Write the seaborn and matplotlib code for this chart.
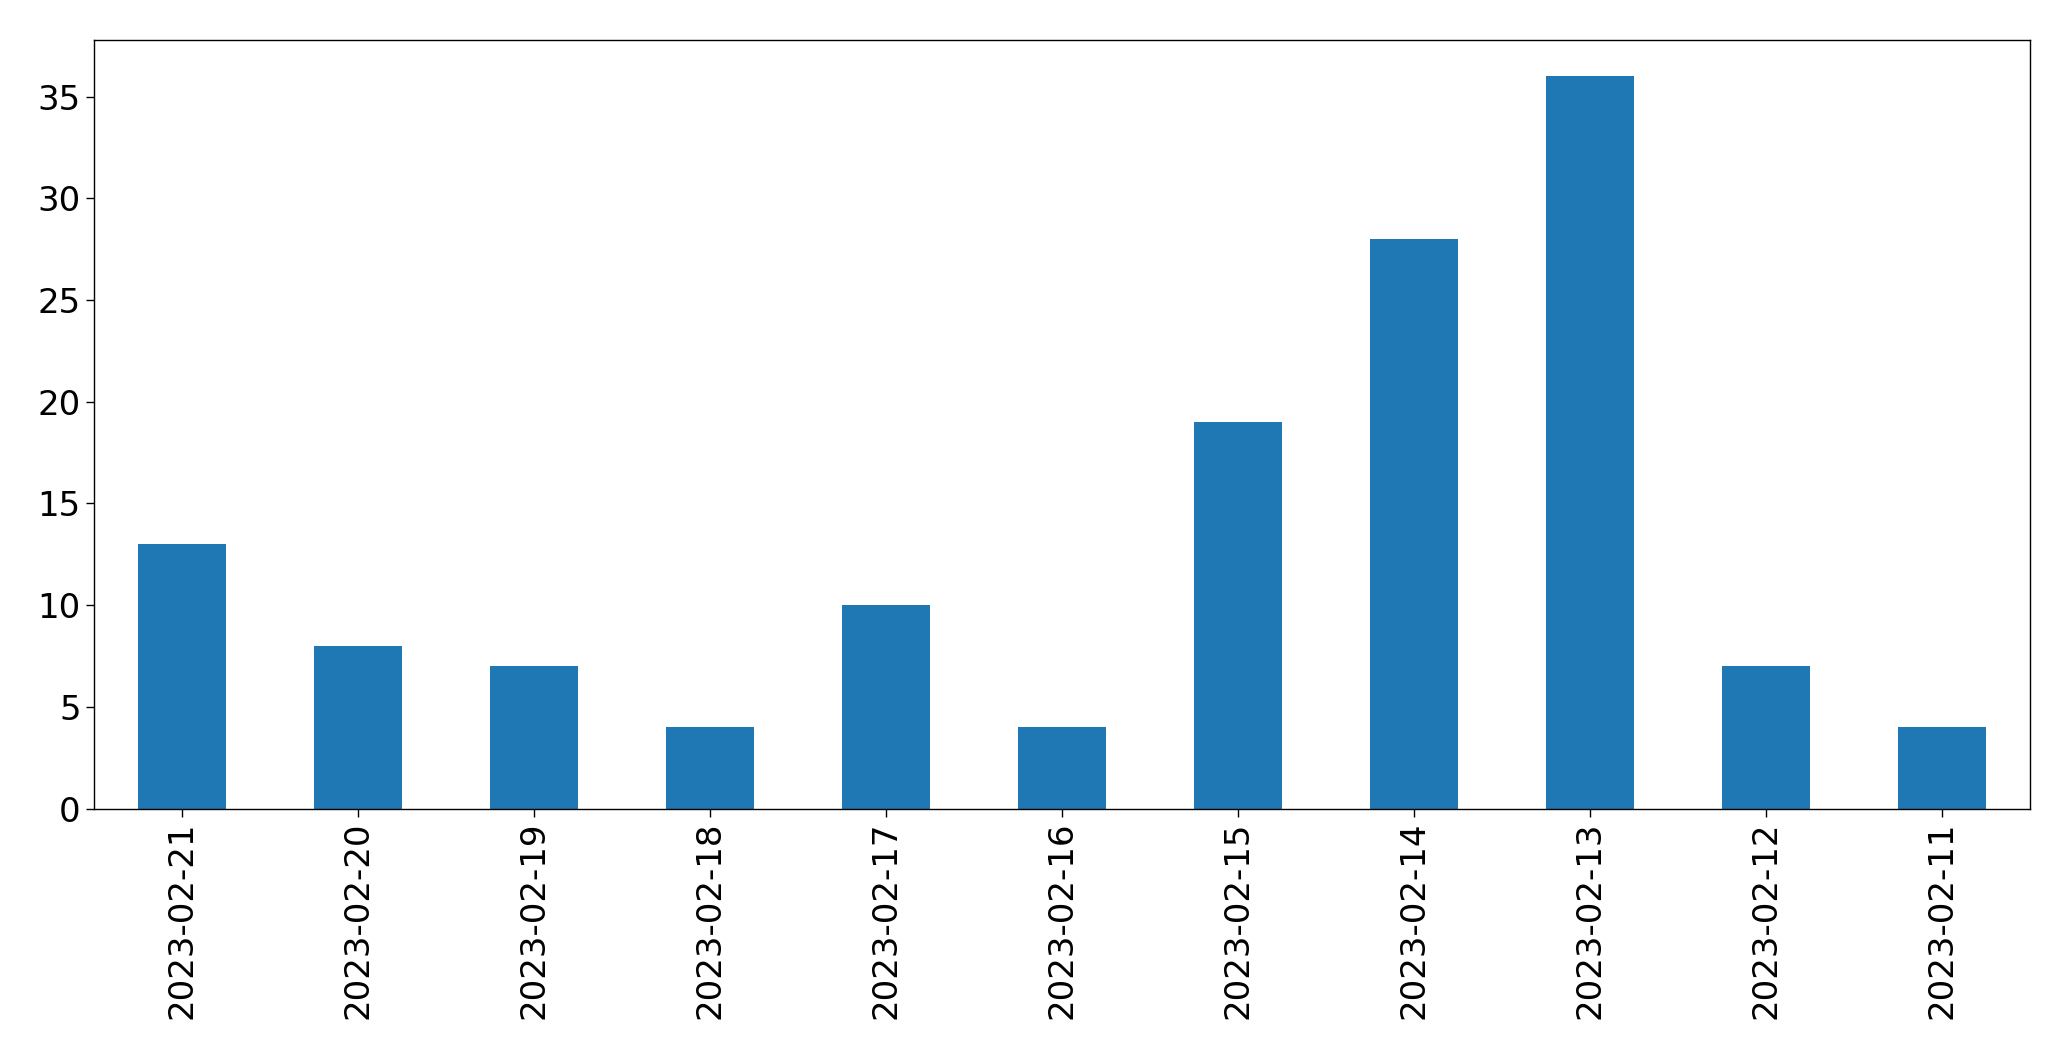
import matplotlib
matplotlib.use("Agg")
import matplotlib.pyplot as plt
import seaborn as sns
import pandas as pd

dates = ["2023-02-21", "2023-02-20", "2023-02-19", "2023-02-18", "2023-02-17",
         "2023-02-16", "2023-02-15", "2023-02-14", "2023-02-13", "2023-02-12", "2023-02-11"]
counts = [13, 8, 7, 4, 10, 4, 19, 28, 36, 7, 4]

sns.set_style("white")
plt.rcParams['font.family'] = ['DejaVu Sans']
plt.rcParams['text.color'] = 'black'
plt.rcParams['xtick.color'] = 'black'
plt.rcParams['ytick.color'] = 'black'

df = pd.DataFrame({"date": dates, "count": counts})
fig = plt.figure(figsize=(20.71, 10.61), dpi=100)
ax = fig.add_axes([0.0453, 0.2379, 0.9349, 0.7247])
sns.barplot(data=df, x="date", y="count", color="#1f77b4", saturation=1, width=0.5,
            linewidth=0, ax=ax)
ax.set_xlabel("")
ax.set_ylabel("")
ax.tick_params(axis="x", rotation=90, labelsize=24.5, length=6, width=1, direction="out",
               bottom=True, colors="black")
ax.tick_params(axis="y", labelsize=24.5, length=6, width=1, direction="out", left=True,
               colors="black")
for s in ax.spines.values():
    s.set_color("black")
    s.set_linewidth(1)
ax.set_xlim(-0.5, len(dates) - 0.5)
ax.set_ylim(0, 37.8)
fig.savefig("out.png", dpi=100)
